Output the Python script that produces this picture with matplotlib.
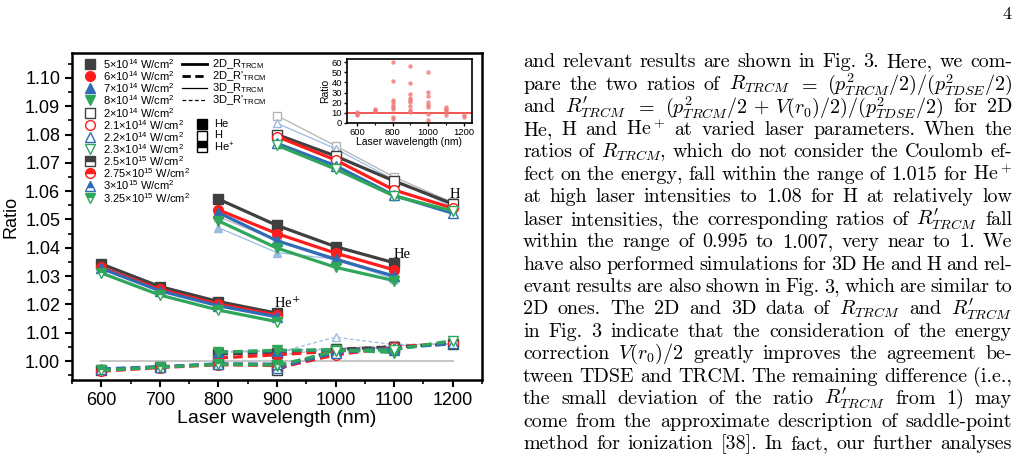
import matplotlib
matplotlib.use('Agg')
import matplotlib.pyplot as plt
from matplotlib.ticker import MultipleLocator

plt.rcParams['mathtext.fontset'] = 'custom'
plt.rcParams['mathtext.rm'] = 'Liberation Sans'
plt.rcParams['mathtext.it'] = 'Liberation Sans:italic'
plt.rcParams['mathtext.bf'] = 'Liberation Sans:bold'
plt.rcParams['font.family'] = 'Liberation Sans'

# ---------------- data ----------------
wl_hep = [600, 700, 800, 900]
wl_he = [800, 900, 1000, 1100]
wl_h = [900, 1000, 1100, 1200]

he_labels = ['5×10$^{14}$ W/cm$^{2}$', '6×10$^{14}$ W/cm$^{2}$', '7×10$^{14}$ W/cm$^{2}$', '8×10$^{14}$ W/cm$^{2}$']
h_labels = ['2×10$^{14}$ W/cm$^{2}$', '2.1×10$^{14}$ W/cm$^{2}$', '2.2×10$^{14}$ W/cm$^{2}$', '2.3×10$^{14}$ W/cm$^{2}$']
hep_labels = ['2.5×10$^{15}$ W/cm$^{2}$', '2.75×10$^{15}$ W/cm$^{2}$', '3×10$^{15}$ W/cm$^{2}$', '3.25×10$^{15}$ W/cm$^{2}$']

# 2D R_TRCM
he_r2d = [[1.0572, 1.0479, 1.0404, 1.0347],
          [1.0534, 1.0450, 1.0381, 1.0322],
          [1.0524, 1.0425, 1.0359, 1.0300],
          [1.0495, 1.0399, 1.0331, 1.0284]]
h_r2d = [[1.0800, 1.0724, 1.0636, 1.0555],
         [1.0793, 1.0710, 1.0604, 1.0540],
         [1.0769, 1.0690, 1.0585, 1.0522],
         [1.0762, 1.0678, 1.0583, 1.0530]]
hep_r2d = [[1.0343, 1.0263, 1.0210, 1.0169],
           [1.0331, 1.0253, 1.0201, 1.0162],
           [1.0327, 1.0248, 1.0195, 1.0156],
           [1.0311, 1.0233, 1.0180, 1.0139]]
# 2D R'_TRCM
he_rp2d = [[1.0025, 1.0030, 1.0040, 1.0045],
           [1.0011, 1.0022, 1.0035, 1.0043],
           [1.0032, 1.0036, 1.0038, 1.0040],
           [1.0031, 1.0038, 1.0040, 1.0030]]
h_rp2d = [[0.9970, 1.0041, 1.0050, 1.0060],
          [0.9975, 1.0022, 1.0048, 1.0065],
          [0.9977, 1.0030, 1.0045, 1.0062],
          [0.9984, 1.0035, 1.0040, 1.0072]]
hep_rp2d = [[0.9970, 0.9979, 0.9989, 0.9987],
            [0.9964, 0.9977, 0.9987, 0.9984],
            [0.9972, 0.9980, 0.9990, 0.9989],
            [0.9967, 0.9978, 0.9988, 0.9986]]
# 3D (two intensities each)
he_r3d = [[1.0510, 1.0425, 1.0365, 1.0300],
          [1.0471, 1.0383, 1.0360, 1.0290]]
h_r3d = [[1.0867, 1.0760, 1.0650, 1.0560],
         [1.0840, 1.0750, 1.0640, 1.0545]]
he_rp3d = [[1.0030, 1.0036, 1.0042, 1.0048],
           [1.0033, 1.0038, 1.0044, 1.0050]]
h_rp3d = [[1.0020, 1.0045, 1.0055, 1.0060],
          [1.0030, 1.0084, 1.0058, 1.0062]]

# inset scatter
inset_wl = [600, 600, 600, 700, 700, 700,
            800, 800, 800, 800, 800, 800, 800, 800, 800,
            900, 900, 900, 900, 900, 900, 900, 900, 900,
            1000, 1000, 1000, 1000, 1000, 1000, 1000, 1000,
            1100, 1100, 1100, 1100, 1100, 1200, 1200]
inset_ratio = [10.5, 9.2, 7.9, 13.8, 12.5, 11.5,
               59.7, 41.3, 22.3, 20.3, 18.0, 15.7, 14.1, 5.9, 4.3,
               56.4, 39.3, 28.9, 24.3, 22.3, 20.3, 16.4, 12.5, 10.5,
               50.2, 30.8, 26.9, 20.3, 18.0, 15.7, 9.2, 3.3,
               15.7, 13.8, 12.5, 10.5, 7.9, 7.9, 5.9]

colors = ['#404040', '#ff1c1c', '#2f6cb5', '#2fa65a']
light = ['#b4b4b4', '#9dbbe0']
markers = ['s', 'o', '^', 'v']

RP = "R^{\\prime}_{TRCM}"
text_lines = [
    "and relevant results are shown in Fig. 3. Here, we com-",
    "pare the two ratios of $R_{TRCM}$ $=$ $(p^2_{TRCM}/2)/(p^2_{TDSE}/2)$",
    "and $" + RP + "$ $=$ $(p^2_{TRCM}/2\\,+\\,V(r_0)/2)/(p^2_{TDSE}/2)$ for 2D",
    "He, H and He$^+$ at varied laser parameters. When the",
    "ratios of $R_{TRCM}$, which do not consider the Coulomb ef-",
    "fect on the energy, fall within the range of 1.015 for He$^+$",
    "at high laser intensities to 1.08 for H at relatively low",
    "laser intensities, the corresponding ratios of $" + RP + "$ fall",
    "within the range of 0.995 to 1.007, very near to 1. We",
    "have also performed simulations for 3D He and H and rel-",
    "evant results are also shown in Fig. 3, which are similar to",
    "2D ones. The 2D and 3D data of $R_{TRCM}$ and $" + RP + "$",
    "in Fig. 3 indicate that the consideration of the energy",
    "correction $V(r_0)/2$ greatly improves the agreement be-",
    "tween TDSE and TRCM. The remaining difference (i.e.,",
    "the small deviation of the ratio $" + RP + "$ from 1) may",
    "come from the approximate description of saddle-point",
    "method for ionization [38]. In fact, our further analyses",
]

# ---------------- figure ----------------
W, H = 1018, 468
fig = plt.figure(figsize=(W / 100, H / 100), dpi=100)


def fx(px):
    return px / W


def fy(py):
    return 1 - py / H


AX_L, AX_R, AX_T, AX_B = 72, 482, 53, 380
ax = fig.add_axes([fx(AX_L), fy(AX_B), fx(AX_R) - fx(AX_L), fy(AX_T) - fy(AX_B)])


def ax_xy(px, py):
    return (px - AX_L) / (AX_R - AX_L), (AX_B - py) / (AX_B - AX_T)


# reference line at 1
ax.plot([600, 1200], [1.0, 1.0], color='#c8c8c8', lw=1.5, zorder=1)

# 3D lines (thin, light)
for k in range(2):
    ax.plot(wl_he, he_r3d[k], color=light[k], lw=0.9, marker=markers[2 * k],
            ms=6, mfc=light[k], mec=light[k], zorder=2)
    ax.plot(wl_he, he_rp3d[k], color=light[k], lw=0.9, ls=(0, (3, 2)), marker=markers[2 * k],
            ms=6, mfc=light[k], mec=light[k], zorder=2)
    ax.plot(wl_h, h_r3d[k], color=light[k], lw=0.9, marker=markers[2 * k],
            ms=6, mfc='white', mec=light[k], zorder=2)
    ax.plot(wl_h, h_rp3d[k], color=light[k], lw=0.9, ls=(0, (3, 2)), marker=markers[2 * k],
            ms=6, mfc='white', mec=light[k], zorder=2)

dash = (0, (3, 1.6))
for k in range(4):
    c = colors[k]
    m = markers[k]
    # He (filled)
    ax.plot(wl_he, he_r2d[k], color=c, lw=2.3, marker=m, ms=7, mfc=c, mec=c, zorder=3)
    ax.plot(wl_he, he_rp2d[k], color=c, lw=2.3, ls=dash, marker=m, ms=7, mfc=c, mec=c, zorder=3)
    # H (open)
    ax.plot(wl_h, h_r2d[k], color=c, lw=2.3, marker=m, ms=7, mfc='white', mec=c, zorder=3)
    ax.plot(wl_h, h_rp2d[k], color=c, lw=2.3, ls=dash, marker=m, ms=7, mfc='white', mec=c, zorder=3)
    # He+ (half)
    ax.plot(wl_hep, hep_r2d[k], color=c, lw=2.3, marker=m, ms=7, fillstyle='top',
            mfc=c, mfcalt='white', mec=c, zorder=3)
    ax.plot(wl_hep, hep_rp2d[k], color=c, lw=2.3, ls=dash, marker=m, ms=7, fillstyle='top',
            mfc=c, mfcalt='white', mec=c, zorder=3)

ax.text(1204, 1.0587, 'H', family='Liberation Serif', fontsize=10.5, ha='center', va='center')
ax.text(1114, 1.0375, 'He', family='Liberation Serif', fontsize=10.5, ha='center', va='center')
ax.text(917, 1.0205, 'He$^{+}$', family='Liberation Serif', fontsize=10.5, ha='center', va='center',
        math_fontfamily='dejavuserif')

ax.set_xlim(550, 1250)
ax.set_ylim(0.9933, 1.1088)
ax.xaxis.set_major_locator(MultipleLocator(100))
ax.xaxis.set_minor_locator(MultipleLocator(50))
ax.yaxis.set_major_locator(MultipleLocator(0.01))
ax.yaxis.set_minor_locator(MultipleLocator(0.005))
ax.yaxis.set_major_formatter(plt.FormatStrFormatter('%.2f'))
ax.tick_params(which='major', direction='out', length=5, width=1.5, labelsize=13)
ax.tick_params(which='minor', direction='out', length=3, width=1.2)
for s in ax.spines.values():
    s.set_linewidth(1.8)
ax.set_xlabel('Laser wavelength (nm)', fontsize=14, labelpad=1)
ax.set_ylabel('Ratio', fontsize=13, labelpad=4)

# ---------------- legend (manual) ----------------
row0, pitch = 64, 12.15
all_labels = he_labels + h_labels + hep_labels
for i, lab in enumerate(all_labels):
    k = i % 4
    grp = i // 4
    py = row0 + i * pitch
    mx, my = ax_xy(90, py)
    tx, ty = ax_xy(103, py)
    kw = dict(marker=markers[k], ms=7, mec=colors[k], ls='none', transform=ax.transAxes, clip_on=False)
    if grp == 0:
        ax.plot([mx], [my], mfc=colors[k], **kw)
    elif grp == 1:
        ax.plot([mx], [my], mfc='white', **kw)
    else:
        ax.plot([mx], [my], mfc=colors[k], fillstyle='top', mfcalt='white', **kw)
    ax.text(tx, ty, lab, fontsize=8, va='center', ha='left', transform=ax.transAxes)

style_labels = ['2D_R$_{\\mathrm{TRCM}}$', "2D_R'$_{\\mathrm{TRCM}}$",
                '3D_R$_{\\mathrm{TRCM}}$', "3D_R'$_{\\mathrm{TRCM}}$"]
style_ls = ['-', (0, (3, 1.6)), '-', (0, (3, 2))]
style_lw = [2.0, 2.0, 0.9, 0.9]
for i, lab in enumerate(style_labels):
    py = row0 + i * pitch
    x0, y0 = ax_xy(182, py)
    x1, _ = ax_xy(207, py)
    ax.plot([x0, x1], [y0, y0], color='black', ls=style_ls[i], lw=style_lw[i],
            transform=ax.transAxes, clip_on=False)
    tx, ty = ax_xy(212, py)
    ax.text(tx, ty, lab, fontsize=8, va='center', ha='left', transform=ax.transAxes)

species = ['He', 'H', 'He$^{+}$']
for i, lab in enumerate(species):
    py = 124 + i * 11.5
    mx, my = ax_xy(202, py)
    kw = dict(marker='s', ms=7, mec='black', ls='none', transform=ax.transAxes, clip_on=False)
    if i == 0:
        ax.plot([mx], [my], mfc='black', **kw)
    elif i == 1:
        ax.plot([mx], [my], mfc='white', **kw)
    else:
        ax.plot([mx], [my], mfc='black', fillstyle='top', mfcalt='white', **kw)
    tx, ty = ax_xy(214, py)
    ax.text(tx, ty, lab, fontsize=8, va='center', ha='left', transform=ax.transAxes)

# ---------------- inset ----------------
IL, IR, IT, IB = 347, 472, 59, 123
ins = fig.add_axes([fx(IL), fy(IB), fx(IR) - fx(IL), fy(IT) - fy(IB)])
ins.axhline(10, color='#f04848', lw=1.3, zorder=1)
ins.plot(inset_wl, inset_ratio, ls='none', marker='o', ms=3.2, color='#f07878', alpha=0.8, mew=0, zorder=2)
ins.set_xlim(542, 1247)
ins.set_ylim(0, 63)
ins.xaxis.set_major_locator(MultipleLocator(200))
ins.xaxis.set_minor_locator(MultipleLocator(100))
ins.yaxis.set_major_locator(MultipleLocator(10))
ins.tick_params(which='major', direction='out', length=2.5, width=1, labelsize=6.8, pad=1)
ins.tick_params(which='minor', direction='out', length=1.5, width=0.8)
for s in ins.spines.values():
    s.set_linewidth(1.2)
ins.set_xlabel('Laser wavelength (nm)', fontsize=7.5, labelpad=0)
ins.set_ylabel('Ratio', fontsize=7.5, labelpad=1)

# ---------------- right column text ----------------
fig.text(fx(1007), fy(14), '4', family='cmr10', fontsize=13, ha='center', va='center')


def tokenize(s):
    toks, cur, inmath = [], '', False
    for ch in s:
        if ch == '$':
            inmath = not inmath
        if ch == ' ' and not inmath:
            if cur:
                toks.append(cur)
            cur = ''
        else:
            cur += ch
    if cur:
        toks.append(cur)
    return toks


renderer = fig.canvas.get_renderer()
X0, X1 = 523, 1012

# calibrate font size so that plain-text lines have natural TeX-like spacing
fs0 = 13.5
ratios = []
for line in text_lines:
    if '$' in line:
        continue
    t = fig.text(0, 0, line, family='cmr10', fontsize=fs0)
    w = t.get_window_extent(renderer).width
    t.remove()
    ratios.append((X1 - X0) / w)
ratios.sort()
fs = fs0 * ratios[len(ratios) // 2] * 0.985

base0, lpitch = 67.5, 22.45
for i, line in enumerate(text_lines):
    toks = tokenize(line)
    yb = fy(base0 + i * lpitch)
    objs = [fig.text(0, yb, t, family='cmr10', fontsize=fs, va='baseline', ha='left',
                     math_fontfamily='cm') for t in toks]
    widths = [o.get_window_extent(renderer).width for o in objs]
    gap = (X1 - X0 - sum(widths)) / max(len(toks) - 1, 1)
    x = X0
    for o, w in zip(objs, widths):
        o.set_x(fx(x))
        x += w + gap

fig.savefig('out.png', dpi=100)
